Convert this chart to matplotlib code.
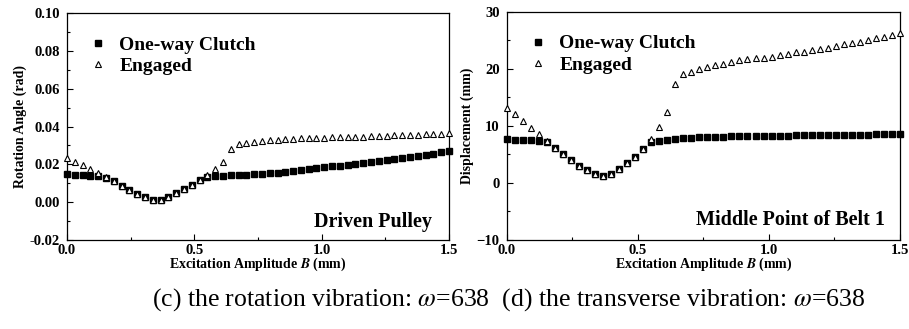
import numpy as np
import matplotlib
matplotlib.use("Agg")
import matplotlib.pyplot as plt
from matplotlib.ticker import MultipleLocator, FormatStrFormatter

plt.rcParams["font.family"] = ["Liberation Serif", "DejaVu Serif"]
plt.rcParams["mathtext.fontset"] = "stix"

# excitation amplitude grid (50 samples, 0 .. 1.5 mm)
amp = np.linspace(0.0, 1.5, 50)

# (c) driven pulley rotation angle (rad)
rot_clutch = [
    0.0148, 0.0146, 0.0142, 0.0140, 0.0137, 0.0130, 0.0110, 0.0088, 0.0065, 0.0046,
    0.0026, 0.0009, 0.0009, 0.0028, 0.0049, 0.0069, 0.0093, 0.0116, 0.0134, 0.0137,
    0.0140, 0.0142, 0.0144, 0.0146, 0.0148, 0.0150, 0.0153, 0.0156, 0.0160, 0.0164,
    0.0169, 0.0174, 0.0179, 0.0184, 0.0189, 0.0194, 0.0199, 0.0204, 0.0209, 0.0214,
    0.0219, 0.0224, 0.0229, 0.0234, 0.0239, 0.0244, 0.0250, 0.0256, 0.0263, 0.0271,
]
rot_engaged = [
    0.0236, 0.0213, 0.0197, 0.0176, 0.0155, 0.0134, 0.0110, 0.0088, 0.0065, 0.0046,
    0.0026, 0.0009, 0.0009, 0.0028, 0.0049, 0.0069, 0.0093, 0.0116, 0.0146, 0.0174,
    0.0211, 0.0281, 0.0308, 0.0315, 0.0320, 0.0325, 0.0328, 0.0331, 0.0333, 0.0336,
    0.0338, 0.0340, 0.0341, 0.0342, 0.0343, 0.0344, 0.0345, 0.0346, 0.0347, 0.0349,
    0.0350, 0.0351, 0.0353, 0.0355, 0.0357, 0.0358, 0.0360, 0.0361, 0.0363, 0.0366,
]

# (d) belt 1 middle point transverse displacement (mm)
disp_clutch = [
    7.65, 7.60, 7.53, 7.47, 7.30, 7.12, 6.13, 5.02, 3.97, 3.04,
    2.22, 1.58, 1.23, 1.63, 2.39, 3.45, 4.61, 5.96, 7.12, 7.30,
    7.53, 7.70, 7.82, 7.94, 8.00, 8.06, 8.10, 8.13, 8.16, 8.18,
    8.20, 8.22, 8.24, 8.26, 8.28, 8.30, 8.32, 8.34, 8.36, 8.38,
    8.40, 8.41, 8.43, 8.44, 8.46, 8.47, 8.49, 8.50, 8.51, 8.52,
]
disp_engaged = [
    13.2, 12.0, 10.8, 9.70, 8.50, 7.30, 6.13, 5.02, 3.97, 3.04,
    2.22, 1.58, 1.23, 1.63, 2.39, 3.45, 4.61, 5.96, 7.77, 9.75,
    12.4, 17.3, 19.15, 19.45, 20.0, 20.26, 20.6, 20.9, 21.2, 21.5,
    21.66, 21.8, 21.95, 22.13, 22.36, 22.66, 22.9, 23.0, 23.2, 23.47,
    23.7, 24.0, 24.3, 24.47, 24.64, 25.0, 25.34, 25.63, 26.0, 26.3,
]

caption = r"(c) the rotation vibration: $\omega$=638  (d) the transverse vibration: $\omega$=638"


def draw_panel(ax, y_clutch, y_engaged, ylim, ymajor, yminor, ylabel, note, note_xy):
    ax.plot(amp, y_clutch, ls="none", marker="s", ms=4.5, color="black",
            label="One-way Clutch", clip_on=False, zorder=3)
    ax.plot(amp, y_engaged, ls="none", marker="^", ms=3.8, mfc="white", mec="black",
            mew=0.8, label="Engaged", clip_on=False, zorder=4)
    ax.set_xlim(0, 1.5)
    ax.set_ylim(*ylim)
    ax.xaxis.set_major_locator(MultipleLocator(0.5))
    ax.xaxis.set_minor_locator(MultipleLocator(0.25))
    ax.yaxis.set_major_locator(MultipleLocator(ymajor))
    ax.yaxis.set_minor_locator(MultipleLocator(yminor))
    ax.tick_params(which="both", direction="in", top=False, right=False,
                   labelsize=10.5)
    ax.tick_params(axis="y", pad=5)
    ax.tick_params(axis="x", pad=3)
    ax.tick_params(which="major", length=4, width=0.8)
    ax.tick_params(which="minor", length=2.5, width=0.8)
    ax.set_xlabel(r"Excitation Amplitude $\mathbfit{B}$ (mm)", fontsize=10,
                  fontweight="bold", labelpad=-1)
    ax.set_ylabel(ylabel, fontsize=10, fontweight="bold", labelpad=2)
    ax.legend(loc="upper left", bbox_to_anchor=(0.02, 0.95), frameon=False,
              prop={"size": 14, "weight": "bold"}, handletextpad=0.5,
              labelspacing=0.2, handlelength=1.2, borderaxespad=0.2)
    ax.text(note_xy[0], note_xy[1], note, transform=ax.transAxes, ha="right",
            va="center", fontsize=14.5, fontweight="bold")
    for sp in ax.spines.values():
        sp.set_linewidth(0.9)


fig = plt.figure(figsize=(9.09, 3.29), dpi=100)
ax1 = fig.add_axes([0.0737, 0.2705, 0.4203, 0.6895])
ax2 = fig.add_axes([0.5574, 0.2705, 0.4327, 0.6940])

draw_panel(ax1, rot_clutch, rot_engaged, (-0.02, 0.10), 0.02, 0.01,
           "Rotation Angle (rad)", "Driven Pulley", (0.955, 0.079))
ax1.yaxis.set_major_formatter(FormatStrFormatter("%.2f"))

draw_panel(ax2, disp_clutch, disp_engaged, (-10, 30), 10, 5,
           "Displacement (mm)", "Middle Point of Belt 1", (0.962, 0.088))

for ax in (ax1, ax2):
    fig.canvas.draw()
    for lab in ax.get_xticklabels() + ax.get_yticklabels():
        lab.set_fontweight("bold")

fig.text(0.56, 0.088, caption, ha="center", va="center", fontsize=18.5)

fig.savefig("out.png", dpi=100)
